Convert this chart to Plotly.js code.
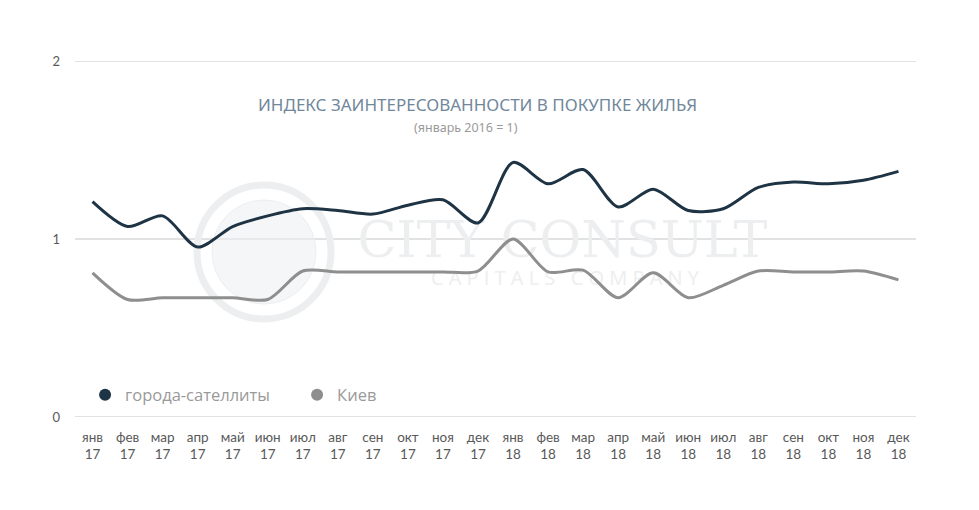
<!DOCTYPE html>
<html><head><meta charset="utf-8">
<script src="https://cdn.plot.ly/plotly-3.0.1.min.js"></script>
<style>html,body{margin:0;padding:0;background:#fff}#chart{width:979px;height:510px}</style>
</head><body><div id="chart"></div>
<script>
const months = ["янв","фев","мар","апр","май","июн","июл","авг","сен","окт","ноя","дек"];
const years = ["17","18"];
const categories = [];
years.forEach(y => months.forEach(m => categories.push(m + "<br>" + y)));
const satellites = [1.21,1.07,1.13,0.955,1.07,1.13,1.17,1.16,1.14,1.19,1.22,1.09,
                    1.43,1.31,1.39,1.18,1.28,1.16,1.17,1.29,1.32,1.31,1.33,1.38];
const kyiv = [0.81,0.66,0.67,0.67,0.67,0.66,0.82,0.815,0.815,0.815,0.815,0.82,
              1.0,0.815,0.825,0.67,0.81,0.67,0.74,0.82,0.815,0.815,0.82,0.77];
const yTicks = [0,1,2];
const seriesNames = ["города-сателлиты","Киев"];
const colors = ["#1e3445","#8e8e8e"];

const traces = [
  {x: categories, y: satellites, type:"scatter", mode:"lines", line:{color:colors[0], width:3, shape:"spline", smoothing:0.8}, showlegend:false, hoverinfo:"skip"},
  {x: categories, y: kyiv, type:"scatter", mode:"lines", line:{color:colors[1], width:3, shape:"spline", smoothing:0.8}, showlegend:false, hoverinfo:"skip"},
  {x:[null], y:[null], type:"scatter", mode:"markers", name:seriesNames[0], marker:{color:colors[0], size:12}},
  {x:[null], y:[null], type:"scatter", mode:"markers", name:seriesNames[1], marker:{color:colors[1], size:12}}
];

const wm = "#eceef0";
const gridShapes = yTicks.map(v => ({type:"line", xref:"paper", yref:"y", x0:0, x1:1, y0:v, y1:v, layer:"below", line:{color:"#d9d9d9", width:1.5}}));
const layout = {
  width:979, height:510,
  margin:{l:75, r:63, t:61, b:93},
  paper_bgcolor:"#fff", plot_bgcolor:"#fff",
  font:{family:"Lato, 'Open Sans', sans-serif", color:"#595959"},
  xaxis:{type:"category", range:[-0.5,23.5], showgrid:false, zeroline:false, showline:false, ticks:"",
         ticklabelstandoff:10, tickfont:{size:13.5, color:"#595959", family:"Lato, sans-serif"}, fixedrange:true},
  yaxis:{range:[0,2], tickvals:yTicks, ticktext:yTicks.map(String), showgrid:false, zeroline:false, showline:false,
         ticks:"", ticklabelstandoff:14, tickfont:{size:13, color:"#595959"}, fixedrange:true},
  showlegend:true,
  legend:{orientation:"h", x:0.012, y:(417-395)/356, xanchor:"left", yanchor:"middle", bgcolor:"rgba(0,0,0,0)",
          font:{family:"'Open Sans', sans-serif", size:16.5, color:"#9a9a9a"}, itemwidth:30, tracegroupgap:0,
          entrywidth:167, entrywidthmode:"pixels"},
  shapes:gridShapes.concat([
    {type:"circle", xref:"paper", yref:"paper", layer:"below", x0:(197-75)/841, x1:(331-75)/841, y0:(417-319)/356, y1:(417-185)/356,
     line:{color:wm, width:7}, fillcolor:"rgba(0,0,0,0)"},
    {type:"circle", xref:"paper", yref:"paper", layer:"below", x0:(212-75)/841, x1:(316-75)/841, y0:(417-304)/356, y1:(417-200)/356,
     line:{color:wm, width:1}, fillcolor:"rgba(236,238,240,0.55)"},
    {type:"rect", xref:"paper", yref:"paper", layer:"below", x0:(355-75)/841, x1:(770-75)/841, y0:(417-262)/356, y1:(417-208)/356,
     line:{width:0}, fillcolor:"rgba(0,0,0,0)",
     label:{text:"CITY CONSULT", textposition:"middle center", font:{family:"'DejaVu Serif', 'Liberation Serif', serif", size:51, color:wm}}},
    {type:"rect", xref:"paper", yref:"paper", layer:"below", x0:(355-75)/841, x1:(775-75)/841, y0:(417-290)/356, y1:(417-266)/356,
     line:{width:0}, fillcolor:"rgba(0,0,0,0)",
     label:{text:"C A P I T A L S   C O M P A N Y", textposition:"middle center", font:{family:"'Open Sans', sans-serif", size:20, color:wm}}}
  ]),
  annotations:[
    {xref:"paper", yref:"paper", x:(477-75)/841, y:(417-105)/356, text:"ИНДЕКС ЗАИНТЕРЕСОВАННОСТИ В ПОКУПКЕ ЖИЛЬЯ", showarrow:false,
     font:{family:"'Noto Sans', sans-serif", size:17, color:"#71879a"}, xanchor:"center", yanchor:"middle"},
    {xref:"paper", yref:"paper", x:(466-75)/841, y:(417-127)/356, text:"(январь 2016 = 1)", showarrow:false,
     font:{family:"'Noto Sans', sans-serif", size:12.5, color:"#9a9a9a"}, xanchor:"center", yanchor:"middle"}
  ]
};
Plotly.newPlot("chart", traces, layout, {displayModeBar:false, staticPlot:true});
</script></body></html>
